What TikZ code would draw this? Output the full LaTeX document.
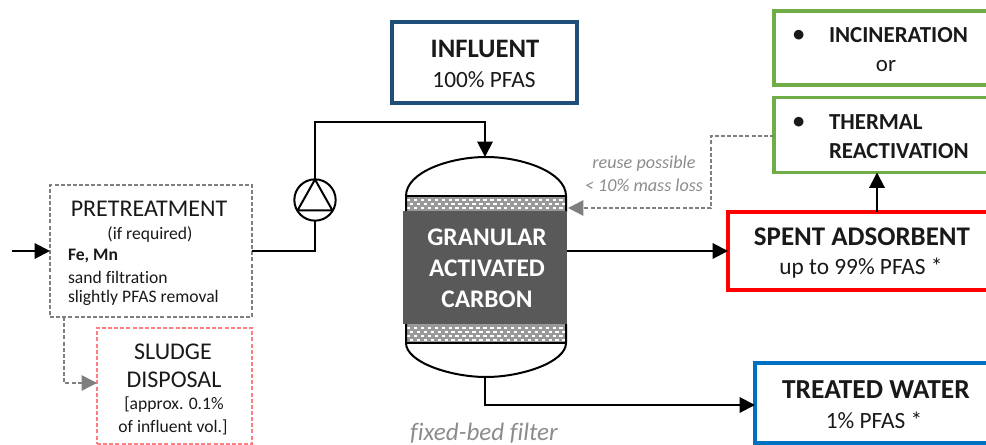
\documentclass[tikz,border=0pt]{standalone}
\usepackage{fontspec}
\setmainfont{Carlito}[Ligatures=NoCommon]
\usetikzlibrary{arrows.meta}
\definecolor{inblue}{HTML}{1F4E79}
\definecolor{trblue}{HTML}{0070C0}
\definecolor{grn}{HTML}{70AD47}
\definecolor{pinkd}{HTML}{FF7C80}
\definecolor{gacgray}{HTML}{595959}
\definecolor{dashgray}{HTML}{7F7F7F}
\definecolor{lab}{HTML}{8C8C8C}
\newcommand{\fs}[1]{\fontsize{#1}{#1}\selectfont}
\tikzset{
  x=0.75pt,y=-0.75pt,
  boxbase/.style={rectangle,inner sep=0pt,outer sep=0pt,line width=2.4pt,align=center},
  dashbox/.style={rectangle,inner sep=0pt,outer sep=0pt,line width=1.2pt,dash pattern=on 3pt off 1.6pt},
  txt/.style={inner sep=0pt,outer sep=0pt,align=center,text=black!90},
  ltxt/.style={inner sep=0pt,outer sep=0pt,align=left,anchor=west,text=black!90},
  flow/.style={line width=1.5pt,-{Triangle[length=11.5pt,width=11.5pt]}},
  plain/.style={line width=1.5pt},
  dashflow/.style={line width=1.1pt,draw=dashgray,dash pattern=on 3pt off 1.6pt,-{Triangle[length=11.5pt,width=11.5pt,fill=dashgray,color=dashgray,sep=0pt]}},
  vessel/.style={line width=1.5pt,draw=black,fill=white},
}
\begin{document}
\begin{tikzpicture}
\useasboundingbox (0,0) rectangle (986,445);
\clip (0,0) rectangle (986,445);
% boxes
\node[boxbase,draw=inblue,minimum width=138.75pt,minimum height=60.75pt] (influent) at (484.5,62.5) {};
\node[boxbase,draw=grn,minimum width=300pt,minimum height=55.5pt,anchor=west] (incin) at (774,48) {};
\node[boxbase,draw=grn,minimum width=300pt,minimum height=56.25pt,anchor=west] (therm) at (774,135) {};
\node[boxbase,draw=red,minimum width=300pt,minimum height=58.5pt,anchor=west] (spent) at (728,251) {};
\node[boxbase,draw=trblue,minimum width=300pt,minimum height=60pt,anchor=north west] (treated) at (755,363) {};
\node[dashbox,draw=dashgray,minimum width=151.5pt,minimum height=99pt] (pre) at (151,251) {};
\node[dashbox,draw=pinkd,minimum width=116.25pt,minimum height=87pt,anchor=north west] (sludge) at (97,328) {};
% vessel
\fill[vessel,draw=none] (406,196) rectangle (567,343);
\fill[black!40] (406,197) rectangle (566,211);
\fill[black!40] (406,324) rectangle (566,342);
\begin{scope}
\clip (407,197) rectangle (566,211);
\foreach \r/\o in {200/0,204/3,208/0}{\draw[white,line width=0.9pt,dash pattern=on 2.6pt off 2.6pt,dash phase=\o pt] (400,\r) -- (570,\r);}
\end{scope}
\begin{scope}
\clip (407,325) rectangle (566,342);
\foreach \r/\o in {328/0,332/3,336/0,340/3}{\draw[white,line width=0.9pt,dash pattern=on 2.6pt off 2.6pt,dash phase=\o pt] (400,\r) -- (570,\r);}
\end{scope}
\draw[vessel,fill=none] (406,212) -- (406,196) .. controls (406,172) and (450,157) .. (486,157) .. controls (522,157) and (566,172) .. (566,196) -- (566,212);
\draw[line width=1.5pt] (406,196) -- (566,196);
\draw[vessel,fill=none] (406,324) -- (406,343) .. controls (406,362) and (450,377) .. (486,377) .. controls (522,377) and (566,362) .. (566,343) -- (566,324);
\draw[line width=1.5pt] (406,343) -- (566,343);
\node[rectangle,fill=gacgray,minimum width=123pt,minimum height=84.75pt,inner sep=0pt,outer sep=0pt] (gac) at (485,267.5) {};
\node[inner sep=0pt,outer sep=0pt,text=white,align=center,font=\fs{19}\bfseries] (gactext) at (487,268) {GRANULAR\\[4.2pt]ACTIVATED\\[4.2pt]CARBON};
\coordinate (vtop) at (485,157);
\coordinate (vbot) at (485,377);
\coordinate (vin) at (568,208);
% pump
\node[circle,draw=black,line width=1.5pt,minimum size=31pt,inner sep=0pt,outer sep=0pt] (pump) at (315,200) {};
\draw[line width=1.5pt,line join=round] (315,179.5) -- (297.5,210.5) -- (332.5,210.5) -- cycle;
% connectors
\coordinate (riser) at (315,122);
\coordinate (feed) at (12,251);
\draw[flow] (feed) -- (pre.west);
\draw[plain] (pre.east) -| (pump.south);
\draw[flow] (pump.north) -- (riser) -| (vtop);
\draw[flow] (vbot) |- (treated.west |- 0,405);
\draw[flow] (gac.east |- spent.west) -- (spent.west);
\draw[flow] (spent.north -| 877,0) -- (therm.south -| 877,0);
\coordinate (sl) at (64,317);
\draw[dashflow] (sl) |- (sludge.west |- 0,383);
\coordinate (th) at (711,136);
\draw[dashflow] (therm.west |- th) -- (th) |- (vin);
% texts
\node[txt,font=\fs{20}\bfseries] (tinf) at (485,49) {INFLUENT};
\node[txt,font=\fs{17.5}] (tinf2) at (484,80) {100\% PFAS};
\node[ltxt,font=\fs{17}\bfseries] (b1) at (793,36) {•};
\node[ltxt,font=\fs{17.2}\bfseries] (t1) at (829,35) {INCINERATION};
\node[txt,font=\fs{17.2}] (t2) at (886,66) {or};
\node[ltxt,font=\fs{17}\bfseries] (b2) at (793,123) {•};
\node[ltxt,font=\fs{17.2}\bfseries] (t3) at (829,122) {THERMAL};
\node[ltxt,font=\fs{17.2}\bfseries] (t4) at (829,151) {REACTIVATION};
\node[txt,font=\fs{20.2}\bfseries] (t5) at (862,237) {SPENT ADSORBENT};
\node[txt,font=\fs{17.5}] (t6) at (861,268) {up to 99\% PFAS *};
\node[txt,font=\fs{20.6}\bfseries] (t7) at (876,390) {TREATED WATER};
\node[txt,font=\fs{17.5}] (t8) at (874,420) {1\% PFAS *};
\node[txt,font=\fs{18}] (t9) at (149,209) {PRETREATMENT};
\node[txt,font=\fs{13.2}] (t10) at (150,234) {(if required)};
\node[ltxt,font=\fs{13.2}\bfseries] (t11) at (68,256) {Fe, Mn};
\node[ltxt,font=\fs{13.2}] (t12) at (68,277) {sand filtration};
\node[ltxt,font=\fs{13.2}] (t13) at (68,298) {slightly PFAS removal};
\node[txt,font=\fs{18}] (t14) at (173,352) {SLUDGE};
\node[txt,font=\fs{18}] (t15) at (174,380) {DISPOSAL};
\node[txt,font=\fs{13.2}] (t16) at (174,405) {[approx. 0.1\%};
\node[txt,font=\fs{13.2}] (t17) at (173,427) {of influent vol.]};
\node[txt,font=\fs{13.6}\itshape,text=lab] (t18) at (644,164) {reuse possible};
\node[txt,font=\fs{13.6}\itshape,text=lab] (t19) at (644,185) {< 10\% mass loss};
\node[txt,font=\fs{18.8}\itshape,text=lab] (t20) at (484,433) {fixed-bed filter};
\end{tikzpicture}
\end{document}
